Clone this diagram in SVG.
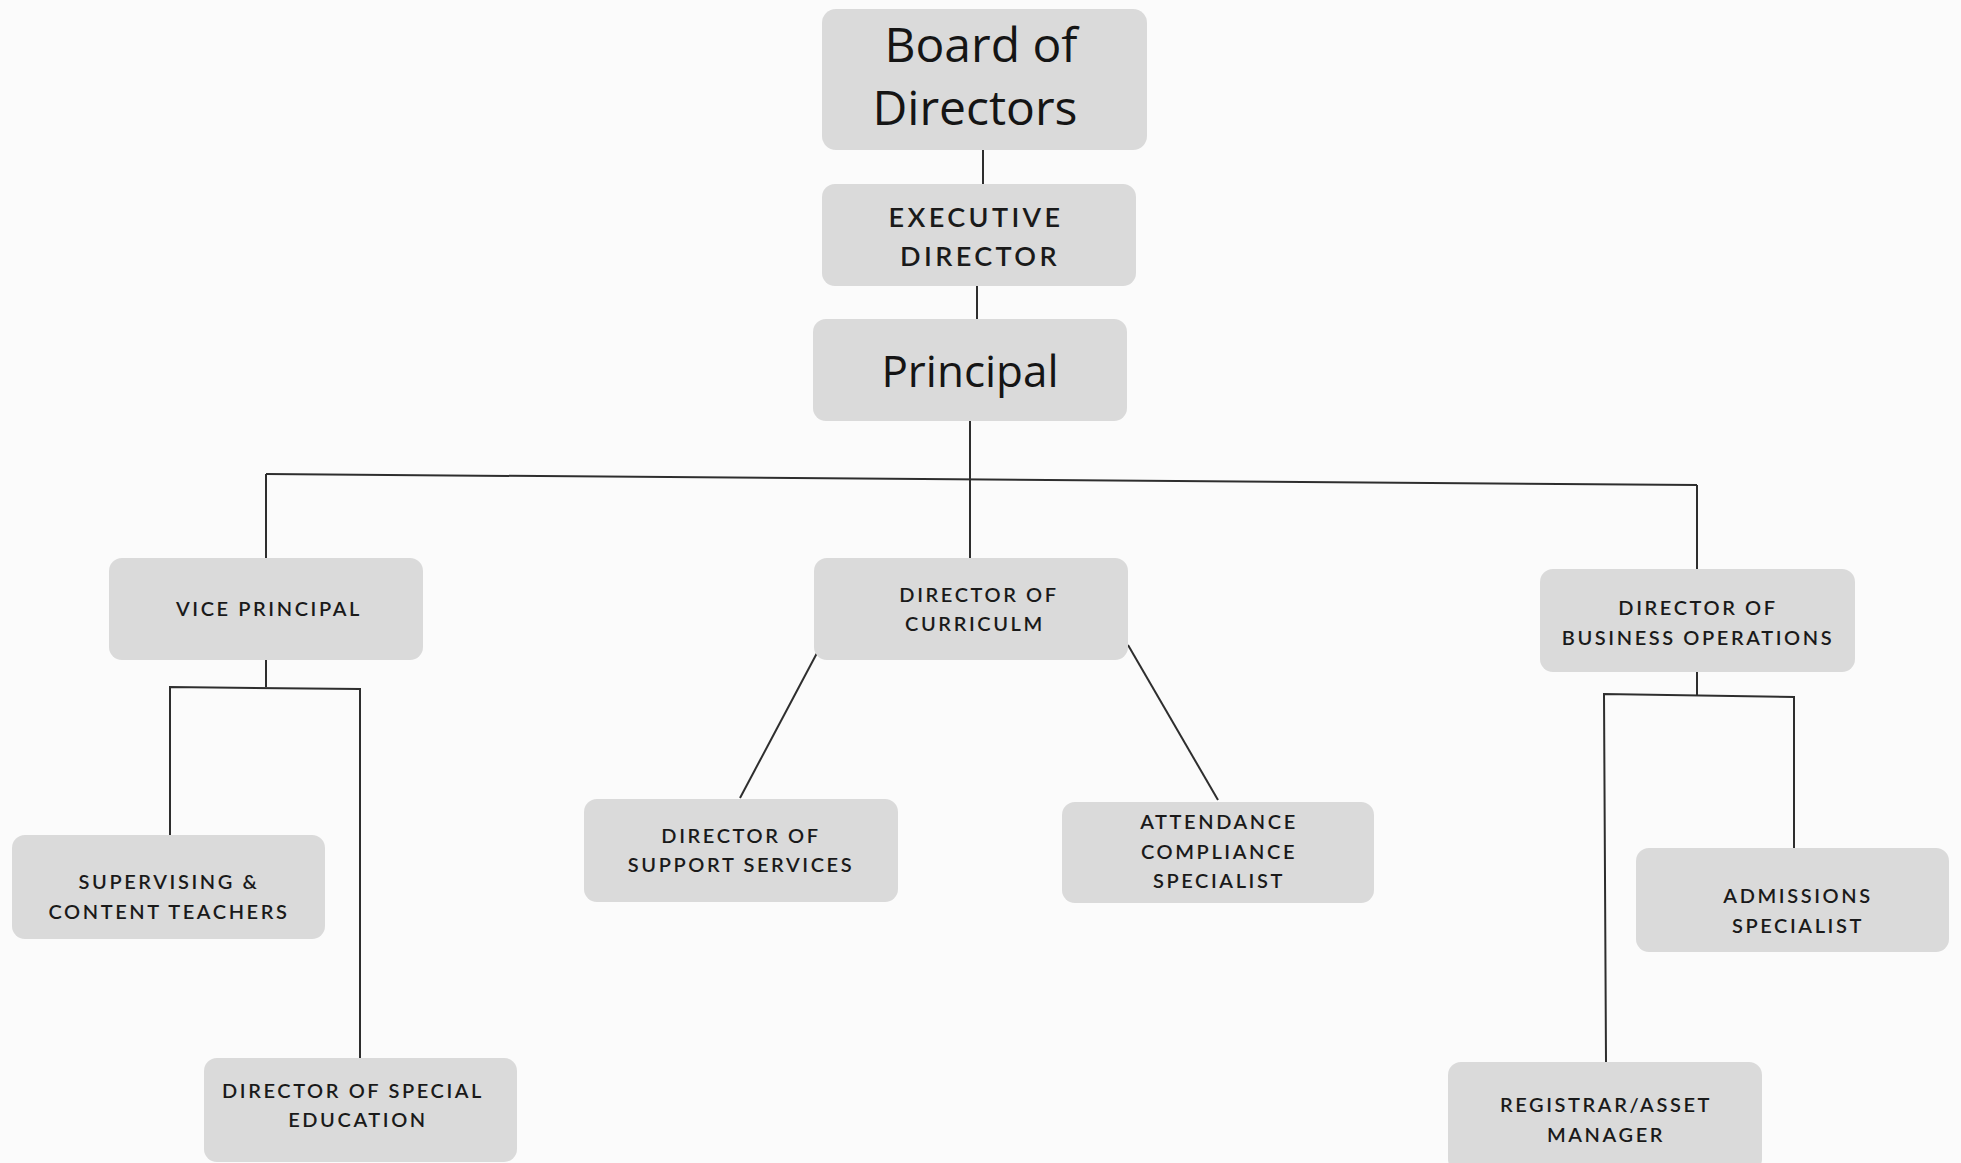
<svg xmlns="http://www.w3.org/2000/svg" width="1961" height="1163" viewBox="0 0 1961 1163">
<style>
.bg{fill:#fbfbfb}
.box{fill:#dadada}
.big{font-family:"Open Sans","Noto Sans",sans-serif;fill:#151515;text-anchor:middle}
.cap{font-family:Lato,"Liberation Sans",sans-serif;font-size:20px;font-weight:600;letter-spacing:2.6px;fill:#1a1a1a;text-anchor:middle}
.exec{font-size:27px;letter-spacing:3.4px}
.ln{stroke:#2e2e2e;stroke-width:2;fill:none}
</style>
<rect class="bg" x="0" y="0" width="1961" height="1163"/>
<g id="connectors">
<line class="ln" x1="983" y1="150" x2="983" y2="184"/>
<line class="ln" x1="977" y1="286" x2="977" y2="319"/>
<line class="ln" x1="970" y1="421" x2="970" y2="558"/>
<line class="ln" x1="266" y1="474" x2="1697" y2="485"/>
<line class="ln" x1="266" y1="474" x2="266" y2="558"/>
<line class="ln" x1="1697" y1="485" x2="1697" y2="569"/>
<polyline class="ln" points="266,660 266,687"/>
<polyline class="ln" points="170,835 170,687 360,689 360,1058"/>
<line class="ln" x1="817" y1="653" x2="740" y2="798"/>
<line class="ln" x1="1128" y1="645" x2="1218" y2="800"/>
<polyline class="ln" points="1697,672 1697,695"/>
<polyline class="ln" points="1606,1062 1604,694 1794,697 1794,848"/>
</g>
<g id="board"><rect class="box" x="822" y="9" width="325" height="141" rx="14"/>
<text class="big" font-size="48" x="981" y="62">Board of</text>
<text class="big" font-size="48" x="975" y="125">Directors</text></g>
<g id="exec"><rect class="box" x="822" y="184" width="314" height="102" rx="13"/>
<text class="cap exec" x="976" y="227">EXECUTIVE</text>
<text class="cap exec" x="980" y="266">DIRECTOR</text></g>
<g id="principal"><rect class="box" x="813" y="319" width="314" height="102" rx="13"/>
<text class="big" font-size="44" x="970" y="387">Principal</text></g>
<g id="vp"><rect class="box" x="109" y="558" width="314" height="102" rx="13"/>
<text class="cap" x="269" y="616">VICE PRINCIPAL</text></g>
<g id="curriculum"><rect class="box" x="814" y="558" width="314" height="102" rx="13"/>
<text class="cap" x="979" y="602">DIRECTOR OF</text>
<text class="cap" x="975" y="631">CURRICULM</text></g>
<g id="business"><rect class="box" x="1540" y="569" width="315" height="103" rx="13"/>
<text class="cap" x="1698" y="615">DIRECTOR OF</text>
<text class="cap" x="1698" y="645">BUSINESS OPERATIONS</text></g>
<g id="supervising"><rect class="box" x="12" y="835" width="313" height="104" rx="13"/>
<text class="cap" x="169" y="889">SUPERVISING &amp;</text>
<text class="cap" x="169" y="919">CONTENT TEACHERS</text></g>
<g id="specialed"><rect class="box" x="204" y="1058" width="313" height="104" rx="13"/>
<text class="cap" x="353" y="1098">DIRECTOR OF SPECIAL</text>
<text class="cap" x="358" y="1127">EDUCATION</text></g>
<g id="support"><rect class="box" x="584" y="799" width="314" height="103" rx="13"/>
<text class="cap" x="741" y="843">DIRECTOR OF</text>
<text class="cap" x="741" y="872">SUPPORT SERVICES</text></g>
<g id="attendance"><rect class="box" x="1062" y="802" width="312" height="101" rx="13"/>
<text class="cap" x="1219" y="829">ATTENDANCE</text>
<text class="cap" x="1219" y="859">COMPLIANCE</text>
<text class="cap" x="1219" y="888">SPECIALIST</text></g>
<g id="admissions"><rect class="box" x="1636" y="848" width="313" height="104" rx="13"/>
<text class="cap" x="1798" y="903">ADMISSIONS</text>
<text class="cap" x="1798" y="933">SPECIALIST</text></g>
<g id="registrar"><rect class="box" x="1448" y="1062" width="314" height="110" rx="13"/>
<text class="cap" x="1606" y="1112">REGISTRAR/ASSET</text>
<text class="cap" x="1606" y="1142">MANAGER</text></g>
</svg>
